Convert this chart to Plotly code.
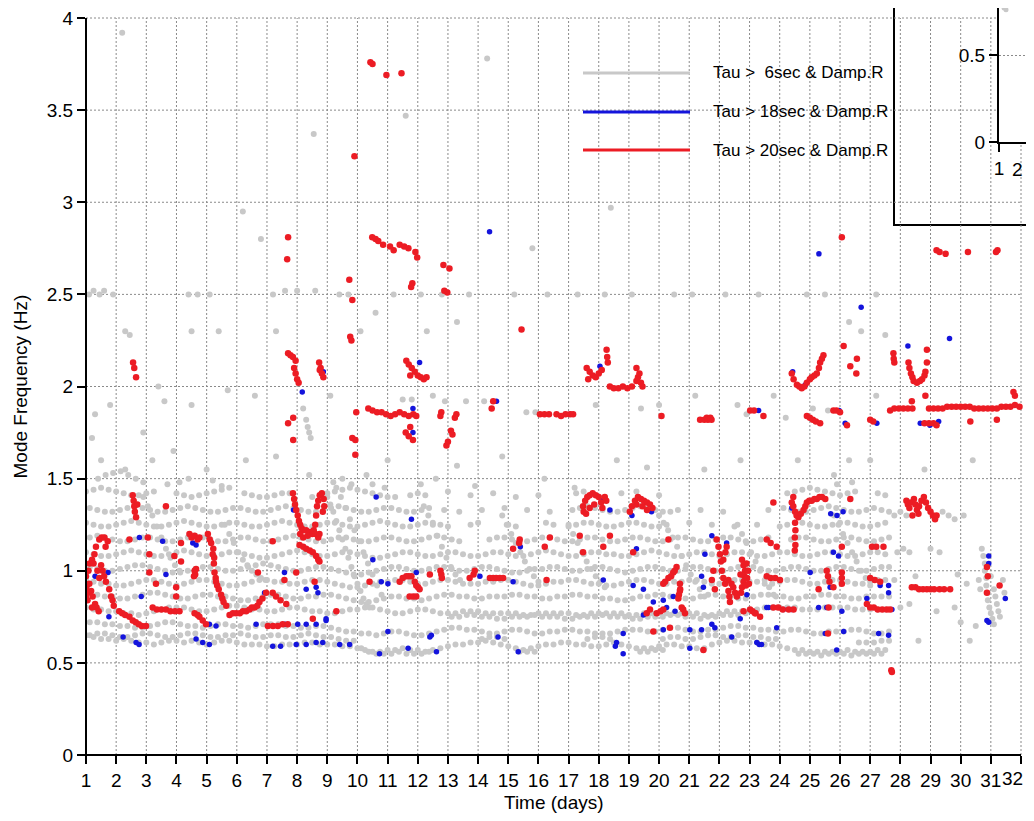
import plotly.graph_objects as go

# ---------------- sample times (days) ----------------
t_a = [1.0, 1.25, 1.5, 1.75, 2.0, 2.25, 2.5, 2.75, 3.0, 3.25, 3.5, 3.75,
       4.0, 4.25, 4.5, 4.75, 5.0, 5.25, 5.5, 5.75, 6.0, 6.25, 6.5, 6.75,
       7.0, 7.25, 7.5, 7.75, 8.0, 8.25, 8.5, 8.75, 9.0, 9.25, 9.5, 9.75,
       10.0, 10.25, 10.5, 10.75, 11.0, 11.25, 11.5, 11.75, 12.0, 12.25, 12.5, 12.75,
       13.0, 13.25, 13.5, 13.75, 14.0, 14.25, 14.5, 14.75, 15.0, 15.25, 15.5, 15.75,
       16.0, 16.25, 16.5, 16.75, 17.0, 17.25, 17.5, 17.75, 18.0, 18.25, 18.5, 18.75,
       19.0, 19.25, 19.5, 19.75, 20.0, 20.25, 20.5, 20.75, 21.0, 21.25, 21.5, 21.75,
       22.0, 22.25, 22.5, 22.75, 23.0, 23.25, 23.5, 23.75, 24.0, 24.25, 24.5, 24.75,
       25.0, 25.25, 25.5, 25.75, 26.0, 26.25, 26.5, 26.75, 27.0, 27.25, 27.5]
t_b = [1.125, 1.375, 1.625, 1.875, 2.125, 2.375, 2.625, 2.875, 3.125, 3.375, 3.625, 3.875,
       4.125, 4.375, 4.625, 4.875, 5.125, 5.375, 5.625, 5.875, 6.125, 6.375, 6.625, 6.875,
       7.125, 7.375, 7.625, 7.875, 8.125, 8.375, 8.625, 8.875, 9.125, 9.375, 9.625, 9.875,
       10.125, 10.375, 10.625, 10.875, 11.125, 11.375, 11.625, 11.875, 12.125, 12.375, 12.625, 12.875,
       13.125, 13.375, 13.625, 13.875, 14.125, 14.375, 14.625, 14.875, 15.125, 15.375, 15.625, 15.875,
       16.125, 16.375, 16.625, 16.875, 17.125, 17.375, 17.625, 17.875, 18.125, 18.375, 18.625, 18.875,
       19.125, 19.375, 19.625, 19.875, 20.125, 20.375, 20.625, 20.875, 21.125, 21.375, 21.625, 21.875,
       22.125, 22.375, 22.625, 22.875, 23.125, 23.375, 23.625, 23.875, 24.125, 24.375, 24.625, 24.875,
       25.125, 25.375, 25.625, 25.875, 26.125, 26.375, 26.625, 26.875, 27.125, 27.375, 27.625]

N = None
# ---------------- gray mode tracks (Hz), Tau > 6 s ----------------
gray_t1 = [.65,.64,.63,.63, .62,.63,.62,.61, .61,.60,.61,.62, .62,.61,.62,.61, .60,.61,.62,.62,
           .61,.60,.60,.60, .59,.59,.60,.60, .60,.61,.61,.60, .60,.60,.59,.59, .58,.57,.56,.56,
           .57,.57,.58,.57, .57,.56,.57,.58, .59,.60,.60,.61, .61,.62,.61,.60, .59,.58,.57,.58,
           .59,.60,.60,.61, .61,.60,.60,.59, .59,.60,.61,.60, .59,.58,.58,.58, .59,.60,.60,.59,
           .59,.58,.58,.60, .61,.62,.62,.61, .61,.61,.60,.60, .59,.58,.57,.57, .56,.56,.56,.56,
           .56,.57,.56,.56, .56,.57,.57]
gray_t2 = [.72,.72,.71,.71, .70,.70,.69,.69, .70,.71,.72,.72, .71,.70,.70,.69, .70,.71,.71,.70,
           .70,.69,.70,.71, .71,.71,.70,.70, .69,.69,.70,.70, .69,.68,.67,.67, .66,.66,.65,.66,
           .67,.67,.66,.65, .65,.66,.67,.68, .69,.69,.68,.68, .67,.66,.66,.67, .68,.68,.67,.66,
           .66,.67,.67,.68, .68,.67,.67,.66, .66,.66,.67,.68, .68,.68,.67,.67, .68,.69,.69,.68,
           .67,.67,.68,.68, .69,.70,.70,.69, .69,.68,.68,.67, .67,.68,.68,.67, .66,.66,.67,.67,
           .67,.68,.68,.67, .66,.66,.67]
gray_t3 = [.80,.79,.79,.78, .78,.77,.77,.76, .77,.78,.79,.80, .80,.80,.79,.78, .78,.79,.80,.81,
           .81,.80,.79,.79, .78,.78,.79,.80, .80,.79,.78,.78, .77,.77,.78,.79, .79,.80,.80,.79,
           .78,.77,.77,.78, .79,.79,.78,.77, .77,.77,.78,.78, .78,.77,.77,.77, .77,.77,.76,.76,
           .77,.77,.77,.77, .77,.76,.76,.77, .77,.77,.77,.77, .76,.76,.77,.77, .77,.77,.77,.77,
           .77,.77,.76,.76, .77,.78,.78,.78, .79,.79,.80,.80, .80,.80,.80,.79, .79,.79,.80,.80,
           .80,.80,.79,.79, .79,.79,.79]
gray_t4 = [.88,.87,.86,.86, .85,.85,.86,.87, .88,.88,.87,.86, .85,.85,.86,.87, .87,.86,.86,.85,
           .84,.84,.85,.86, .87,.87,.86,.85, .85,.86,.86,.87, .87,.86,.85,.84, .83,.83,.84,.85,
           .86,.86,.85,.85, .84,.85,.86,.87, .87,.86,.86,.85, .85,.86,.86,.86, .87,.87,.86,.86,
           .85,.85,.86,.86, .87,.87,.86,.86, .85,.85,.84,.84, .85,.86,.86,.87, .87,.86,.86,.85,
           .85,.86,.87,.87, .86,.86,.85,.85, .86,.87,.87,.86, .86,.85,.85,.86, .86,.87,.87,.86,
           .86,.85,.85,.86, .86,.86,.86]
gray_t5 = [.95,.94,.93,.93, .92,.92,.93,.94, .95,.95,.94,.93, .92,.93,.94,.95, .95,.94,.93,.92,
           .92,.93,.94,.95, .95,.94,.94,.93, .93,.94,.95,.95, .94,.93,.92,.91, .91,.92,.93,.94,
           .94,.95,.95,.94, .93,.93,.94,.95, .95,.94,.93,.93, .93,.94,.94,.95, .95,.94,.93,.92,
           .92,.93,.94,.94, .95,.95,.94,.93, .93,.92,.92,.93, .94,.95,.95,.94, .93,.93,.94,.94,
           .95,.95,.94,.93, .93,.94,.95,.95, .94,.94,.93,.93, .94,.95,.95,.94, .93,.93,.94,.95,
           .95,.94,.93,.93, .94,.95,.95]
gray_t6 = [1.02,1.01,1.00,1.00, 1.01,1.02,1.03,1.03, 1.02,1.01,1.00,.99, .99,1.00,1.01,1.02,
           1.02,1.01,1.00,1.00, 1.01,1.02,1.03,1.04, 1.03,1.02,1.01,1.00, 1.00,1.01,1.02,1.02,
           1.01,1.00,.99,.98, .98,.99,1.00,1.01, 1.02,1.02,1.01,1.00, 1.00,1.01,1.02,1.02,
           1.01,1.00,1.00,1.01, 1.02,1.02,1.01,1.00, .99,.99,1.00,1.01, 1.01,1.02,1.02,1.01,
           1.00,1.00,1.01,1.02, 1.02,1.01,1.00,.99, 1.00,1.01,1.02,1.02, 1.01,1.00,1.00,1.01,
           1.02,1.02,1.01,1.00, 1.00,1.01,1.02,1.03, 1.02,1.01,1.00,1.00, 1.01,1.02,1.02,1.01,
           1.00,1.00,1.01,1.02, 1.02,1.01,1.00,1.00, 1.01,1.02,1.02]
gray_t7 = [1.10,1.09,1.08,1.08, 1.09,1.10,1.11,1.10, 1.09,1.08,1.08,1.09, 1.10,1.11,1.10,1.09,
           1.08,1.08,1.09,1.10, 1.10,1.09,1.08,1.07, 1.07,1.08,1.09,1.10, 1.11,1.10,1.09,1.08,
           1.08,1.09,1.10,1.10, 1.09,1.08,1.07,1.07, 1.08,1.09,1.10,1.10, 1.09,1.08,1.08,1.09,
           1.10,1.10,1.09,1.08, 1.08,1.09,1.10,1.10, 1.09,1.08,1.08,1.09, 1.10,1.11,1.10,1.09,
           1.08,1.08,1.09,1.10, 1.10,1.09,1.09,1.08, 1.08,1.09,1.10,1.11, 1.10,1.09,1.08,1.08,
           1.09,1.10,1.10,1.09, 1.08,1.09,1.10,1.10, 1.09,1.08,1.08,1.09, 1.10,1.10,1.09,1.08,
           1.08,1.09,1.10,1.10, 1.09,1.08,1.08,1.09, 1.10,1.10,1.09]
gray_t8 = [1.18,1.19,1.18,1.17, 1.16,1.16,1.17,1.18, 1.18,1.17,1.16,1.16, 1.17,1.18,1.19,1.18,
           1.17,1.16,1.16,1.17, 1.18,1.18,1.17,1.16, 1.16,1.17,1.18,1.19, 1.18,1.17,1.16,1.16,
           1.17,1.18,1.18,1.17, 1.16,1.16,1.17,1.18, 1.18,1.17,1.16,1.16, 1.17,1.18,1.19,1.18,
           1.17,1.16,N,N, N,1.17,1.18,1.18, 1.17,1.16,1.16,1.17, 1.18,1.18,1.17,1.16,
           1.16,1.17,1.18,1.18, 1.17,1.16,1.16,1.17, 1.18,1.18,1.17,1.16, 1.16,1.17,1.18,1.18,
           1.17,1.16,1.16,1.17, 1.18,1.18,1.17,1.16, 1.16,1.17,1.18,N, N,1.17,1.18,1.18,
           1.17,1.16,1.16,1.17, 1.18,1.18,1.17,1.16, 1.16,1.17,1.18]
gray_t9 = [1.26,1.25,1.24,1.24, 1.25,1.26,1.27,1.26, 1.25,1.24,1.24,1.25, 1.26,1.27,1.26,1.25,
           1.24,1.24,1.25,1.26, 1.26,1.25,1.24,1.24, 1.25,1.26,1.27,1.26, 1.25,1.24,1.24,1.25,
           1.26,1.26,1.25,1.24, 1.24,1.25,1.26,1.27, 1.26,1.25,1.24,1.24, 1.25,1.26,1.26,1.25,
           1.24,N,N,1.25, 1.26,N,N,N, 1.25,1.24,N,N, N,1.26,1.25,N,
           1.24,1.25,1.26,1.26, 1.25,1.24,1.24,1.25, 1.26,1.26,1.25,1.24, 1.24,1.25,N,N,
           1.26,N,N,1.25, N,N,1.24,N, N,1.25,N,N, 1.24,1.25,1.26,1.26,
           1.25,1.24,1.24,1.25, 1.26,1.26,1.25,1.24, 1.24,1.25,1.26]
gray_t10 = [1.34,1.33,1.32,1.32, 1.33,1.34,1.35,1.34, 1.33,1.32,1.32,1.33, 1.34,1.35,1.34,1.33,
            1.32,1.32,1.33,1.34, 1.34,1.33,1.32,1.32, 1.33,1.34,1.35,1.34, 1.33,1.32,1.32,1.33,
            1.34,1.35,1.34,1.33, 1.32,1.32,1.33,1.34, 1.34,1.33,1.32,1.32, 1.33,1.34,N,1.33,
            N,1.32,N,N, 1.33,N,N,1.34, N,N,1.33,N, N,1.32,N,N,
            1.33,1.34,1.35,1.34, 1.33,1.32,1.32,1.33, 1.34,1.35,1.34,1.33, 1.32,1.32,1.33,N,
            N,1.33,N,N, 1.32,N,N,N, N,N,1.33,N, 1.34,1.33,1.32,1.32,
            1.33,1.34,1.35,1.34, 1.33,1.32,1.32,1.33, 1.34,1.33,1.32]
gray_t11 = [1.43,1.44,1.45,1.44, 1.43,1.42,1.41,1.41, 1.42,1.43,N,N, 1.42,1.41,1.40,1.41,
            1.42,1.43,1.44,1.45, N,1.42,1.41,1.40, 1.40,1.41,1.42,1.42, N,N,1.40,1.41,
            1.42,1.43,1.44,1.45, 1.44,1.43,1.42,1.41, 1.40,1.40,N,1.41, 1.42,1.41,N,N,
            1.43,N,N,1.41, N,N,1.42,N, N,1.40,N,N, 1.41,N,N,N,
            N,1.42,1.43,N, N,N,N,1.42, N,1.43,N,N, 1.41,N,N,N,
            N,N,N,N, N,N,N,N, N,N,N,N, N,1.42,1.43,1.44,
            1.45,1.44,1.43,1.42, 1.41,1.42,1.43,N, N,1.42,1.41]
gray_t12 = [.65,.66,.66,.65, .64,.64,.65,.66, .66,.65,.64,.64, .65,.66,.66,.65, .64,.64,.65,.65,
            .66,.65,.64,.64, .65,.65,.64,.64, .65,.66,.65,.64, .64,.63,.62,.62, N,N,N,N,
            N,N,N,N, N,N,N,N, N,N,N,N, .63,.64,.64,.63, N,N,N,N,
            N,N,N,N, N,N,.63,.64, .64,.63,N,N, N,N,N,N, .63,.64,.64,.63,
            .63,.64,.65,.65, .64,.64,.65,.65, .64,.64,.63,.63, N,N,N,N, N,N,N,N,
            N,N,.61,.61, .61,.62,.62]

# gray arcs and isolated gray modes: (day, Hz)
gray_arcs = [
    (9.0,1.4),(9.1,1.36),(9.2,1.32),(9.3,1.27),(9.4,1.22),(9.5,1.17),(9.6,1.12),(9.7,1.07),(9.8,1.02),
    (9.9,0.97),(10.0,0.93),(10.1,0.89),(10.2,0.85),(10.3,0.82),(10.4,0.8),
    (9.3,1.45),(9.45,1.4),(9.6,1.34),(9.75,1.28),(9.9,1.22),(10.05,1.16),(10.2,1.1),(10.35,1.04),
    (10.5,0.98),(10.65,0.92),(10.8,0.87),
    (5.6,1.25),(5.75,1.2),(5.9,1.15),(6.05,1.1),(6.2,1.06),(6.35,1.03),(6.5,1.0),(6.65,0.98),(6.8,0.96),(6.95,0.95),
    (20.0,1.3),(20.15,1.26),(20.3,1.22),(20.45,1.18),(20.6,1.13),(20.75,1.08),(20.9,1.03),(21.05,0.98),
    (21.2,0.94),(21.35,0.9),(21.5,0.86),
    (22.6,1.25),(22.75,1.2),(22.9,1.15),(23.05,1.1),(23.2,1.05),(23.35,1.0),(23.5,0.95),(23.65,0.91),(23.8,0.87),
    (12.2,1.35),(12.35,1.3),(12.5,1.25),(12.65,1.19),(12.8,1.13),(12.95,1.07),(13.1,1.02),(13.25,0.98),(13.4,0.95),
    (2.9,1.4),(3.05,1.35),(3.2,1.3),(3.35,1.24),(3.5,1.18),(3.65,1.12),(3.8,1.07),(3.95,1.03),(4.1,1.0),
    (25.8,1.3),(25.95,1.25),(26.1,1.2),(26.25,1.15),(26.4,1.1),(26.55,1.05),(26.7,1.0),(26.85,0.96),(27.0,0.92),
    (17.0,1.25),(17.15,1.2),(17.3,1.15),(17.45,1.1),(17.6,1.05),(17.75,1.01),(17.9,0.97),(18.05,0.94),(18.2,0.91),
    (14.8,1.3),(14.95,1.25),(15.1,1.2),(15.25,1.15),(15.4,1.1),(15.55,1.05),(15.7,1.01),(15.85,0.97),(16.0,0.94),
]

gray_extra = [
    (13.125,.75),(13.375,.75),(13.625,.76),(13.875,.76),(14.125,.75),(14.375,.75),(14.625,.74),(14.875,.74),
    (15.125,.75),(15.375,.75),(15.625,.75),(15.875,.76),(16.125,.75),(16.375,.75),(16.625,.75),(16.875,.74),
    (17.125,.74),(17.375,.75),(17.625,.75),(17.875,.75),(18.125,.76),(18.375,.75),(18.625,.75),(18.875,.75),
    (19.125,.74),(19.375,.74),(19.625,.75),(19.875,.75),(20.125,.75),(20.375,.76),(20.625,.76),(20.875,.75),
    (21.125,.75),(21.375,.74),(21.625,.75),(21.875,.75),(22.125,.76),(22.375,.76),(22.625,.76),(22.875,.77),
    (10.125,.58),(10.375,.56),(10.625,.55),(10.875,.55),(11.125,.55),(11.375,.56),(11.625,.55),(11.875,.55),
    (12.125,.55),(12.375,.56),(15.375,.56),(15.625,.56),(15.875,.56),(19.375,.56),(19.625,.56),(19.875,.57),
    (20.125,.57),(24.625,.55),(24.875,.55),(25.125,.55),(25.375,.54),(25.625,.55),(25.875,.55),(26.125,.55),
    (26.375,.54),(26.625,.55),(26.875,.55),(27.125,.55),(27.375,.55),
    (1.4,1.5),(1.65,1.52),(1.9,1.53),(2.15,1.54),(2.4,1.52),(2.65,1.5),(2.9,1.48),(3.7,1.47),(4.1,1.48),
    (4.4,1.5),(5.2,1.49),(5.5,1.46),(9.2,1.48),(9.5,1.5),(9.8,1.47),(10.5,1.47),(10.9,1.45),(12.1,1.47),
    (13.9,1.46),(17.2,1.45),(25.9,1.47),(26.4,1.48),
    (2.2,3.92),(1.1,2.5),(1.25,2.52),(1.45,2.5),(1.6,2.52),(1.9,2.5),(2.3,2.3),(2.45,2.28),(3.4,2.0),
    (3.6,1.92),(4.4,2.5),(4.7,2.5),(4.5,2.3),(5.1,2.5),(5.4,2.3),(6.2,2.95),(6.8,2.8),(7.2,2.5),(7.3,2.3),
    (7.6,2.52),(8.0,2.52),(8.55,3.37),(8.6,2.52),(9.4,2.5),(9.7,2.5),(10.1,2.3),(10.6,2.4),(11.2,2.5),
    (11.6,3.47),(12.1,2.5),(12.3,2.3),(12.8,2.5),(13.3,2.35),(13.7,2.5),(14.3,3.78),(15.2,2.5),(15.8,2.75),
    (16.3,2.5),(17.3,2.5),(18.2,2.5),(18.4,2.97),(19.1,2.5),(20.5,2.5),(21.1,2.5),(22.2,2.5),(23.3,2.5),
    (24.9,2.5),(25.5,2.5),(26.3,2.35),(26.7,2.3),(27.5,2.28),(27.2,2.5),
    (1.3,1.85),(1.8,1.9),(2.9,1.75),(4.5,1.9),(5.7,1.98),(6.6,1.95),(8.2,1.88),(8.3,1.82),(8.35,1.78),
    (8.4,1.75),(8.45,1.72),(9.1,1.95),(12.5,1.95),(14.2,1.92),(15.9,1.86),(17.9,1.9),(19.4,1.88),
    (21.2,1.95),(22.6,1.9),(23.8,1.95),(24.2,1.83),(27.2,1.95),(11.5,1.93),(11.8,1.93),(12.9,1.92),
    (13.6,1.92),(15.6,1.86),(16.9,1.85),(20.0,1.9),(22.9,1.85),(25.1,1.88),(25.6,1.87),
    (1.5,1.6),(2.3,1.55),(3.2,1.6),(5.0,1.55),(6.3,1.6),(8.4,1.52),(10.3,1.52),(12.6,1.5),(13.3,1.57),
    (16.2,1.5),(19.6,1.56),(22.7,1.6),(25.8,1.52),(27.0,1.6),(28.8,1.55),(30.4,1.6),(1.2,1.72),(3.9,1.65),
    (7.3,1.62),(11.0,1.6),(14.8,1.62),(18.6,1.6),(21.5,1.55),(24.6,1.6),(26.3,1.6),
    (27.8,1.3),(28.0,1.32),(28.2,1.3),(29.4,1.32),(29.6,1.3),(29.8,1.28),(30.1,1.3),(27.9,1.1),(28.1,1.12),
    (28.3,1.1),(29.0,1.12),(29.3,1.1),(27.8,0.95),(28.5,0.97),(29.9,0.98),(30.2,0.93),(28.0,0.8),(28.3,0.82),
    (29.2,0.78),(29.8,0.8),(30.0,0.72),(30.5,0.7),(30.3,0.62),(28.6,0.62),
    (30.7,1.12),(30.75,1.08),(30.8,1.04),(30.8,1.0),(30.85,0.96),(30.85,0.92),(30.9,0.88),(30.9,0.84),
    (30.95,0.8),(31.0,0.77),(31.05,0.74),(31.1,0.71),(31.0,0.97),(31.1,0.9),(31.15,0.86),(31.2,0.82),
    (31.25,0.78),(31.3,0.75),(30.6,0.95),(30.65,0.9),(31.4,0.95),(31.45,0.88),
]

# ---------------- blue modes, Tau > 18 s ----------------
blue_pts = [
    (1.73,0.99),(1.76,0.75),(2.23,0.64),(2.66,0.61),(2.76,0.6),(2.77,1.18),(3.54,1.16),(3.65,0.98),(2.83,0.86),
    (1.3,0.97),(4.54,1.15),(4.65,1.14),(5.09,0.71),(5.31,0.7),(4.65,0.63),(4.87,0.61),(5.09,0.6),
    (6.92,0.88),(6.64,0.71),(7.58,0.99),(7.6,0.71),(8.02,0.71),(8.3,0.71),(8.63,0.71),(8.96,0.73),
    (7.19,0.59),(7.45,0.59),(7.97,0.6),(8.3,0.6),(8.63,0.61),(8.85,0.61),(9.41,0.6),(9.74,0.6),(10.73,0.55),
    (11.01,0.67),(8.96,0.74),(8.3,0.9),(8.63,0.91),(8.69,0.88),(10.51,1.06),(10.79,0.94),(11.01,0.93),
    (7.88,1.33),(10.62,1.40),(8.17,1.97),(8.87,2.08),
    (11.95,0.99),(14.06,0.97),(15.16,0.94),(15.4,1.13),(18.15,0.95),(19.25,1.12),(19.14,0.92),(19.48,0.9),
    (19.81,0.83),(20.14,0.84),(20.47,0.86),(20.25,0.8),(20.53,0.78),(19.48,0.76),(20.14,0.68),(21.02,0.68),
    (21.41,0.68),(21.47,0.57),(21.02,0.58),(12.4,0.64),(12.45,0.65),(11.68,0.58),(12.62,0.56),(14.66,0.64),
    (15.33,0.56),(18.59,0.61),(18.55,0.59),(18.81,0.66),(18.81,0.55),(21.41,0.97),(21.47,0.91),(21.52,1.09),
    (21.75,1.19),(22.24,1.15),(21.75,0.71),(21.85,0.69),(22.41,0.64),(22.69,0.74),(23.24,0.61),(23.32,0.6),
    (23.4,0.6),(22.91,0.87),(22.58,0.86),(23.63,0.8),(23.9,0.69),(23.57,0.8),(24.12,0.79),(24.4,0.79),
    (25.29,0.8),(25.01,0.99),(25.78,1.1),(25.95,1.08),(25.67,0.91),(25.56,0.8),(26.06,0.78),(25.51,0.66),
    (26.12,0.67),(25.89,0.57),(27.33,0.92),(27.61,0.92),(27.61,0.88),(26.89,0.85),(27.72,0.79),(27.28,0.66),
    (27.61,0.65),(30.93,1.08),(30.93,1.04),(30.87,0.73),(30.93,0.72),(31.48,0.85),
    (14.61,1.92),(17.05,1.85),(18.04,2.11),(23.3,1.87),(24.43,2.08),(24.85,2.01),(25.97,1.87),(26.17,1.8),
    (27.22,1.8),(28.25,2.22),(29.63,2.26),(28.66,1.80),(28.98,1.79),(29.27,1.81),(11.84,1.88),(11.84,1.75),
    (12.06,2.13),(18.09,1.38),(18.37,1.33),(19.1,1.3),(19.75,1.32),(11.79,1.28),(24.4,1.34),(25.69,1.31),
    (25.9,1.3),(26.1,1.32),(14.38,2.84),(25.3,2.72),(26.7,2.43),
]

# ---------------- red modes, Tau > 20 s ----------------
red_pts = [
    (10.43,3.76),(10.5,3.75),(10.96,3.69),(11.46,3.70),(9.9,3.25),
    (10.49,2.81),(10.6,2.8),(10.69,2.79),(10.85,2.77),(11.08,2.76),(11.2,2.74),(11.4,2.77),(11.55,2.76),
    (11.69,2.75),(11.92,2.73),(11.98,2.7),(11.82,2.56),(11.78,2.54),(12.85,2.66),(13.05,2.64),(12.88,2.52),
    (12.98,2.51),(9.73,2.58),(9.83,2.47),(9.76,2.27),(9.8,2.25),(9.83,1.72),(9.93,1.71),(9.93,1.63),
    (7.7,2.81),(7.67,2.69),(7.7,2.18),(7.78,2.17),(7.86,2.16),(7.95,2.14),(7.9,2.1),(7.95,2.07),(8.0,2.04),
    (8.05,2.02),(8.73,2.13),(8.78,2.1),(8.82,2.07),(8.87,2.05),(8.75,2.09),(7.87,1.83),(7.7,1.8),(7.87,1.71),
    (9.96,1.86),(10.36,1.88),(10.5,1.87),(10.65,1.86),(10.8,1.86),(10.95,1.85),(11.1,1.84),(11.25,1.85),
    (11.4,1.86),(11.55,1.85),(11.7,1.84),(11.85,1.85),(11.95,1.84),
    (11.62,2.14),(11.7,2.12),(11.8,2.1),(11.9,2.08),(12.0,2.06),(12.1,2.05),(12.2,2.04),(12.29,2.05),(11.75,2.06),
    (12.78,1.86),(12.75,1.84),(13.23,1.83),(13.28,1.85),(13.1,1.76),(13.15,1.74),(12.95,1.68),(13.0,1.7),
    (11.6,1.75),(11.7,1.73),(11.84,1.71),(11.75,1.78),(14.5,1.92),(14.45,1.88),(15.44,2.31),
    (16.05,1.85),(16.2,1.85),(16.35,1.85),(16.6,1.85),(16.75,1.84),(16.9,1.85),(17.05,1.85),(17.15,1.85),
    (17.6,2.1),(17.7,2.08),(17.8,2.06),(17.9,2.05),(18.0,2.07),(18.1,2.09),(17.65,2.04),(18.26,2.2),(18.28,2.16),
    (18.3,2.13),(18.37,2.0),(18.5,1.99),(18.65,1.99),(18.8,2.0),(18.95,1.99),(19.1,2.0),(19.25,2.03),(19.3,2.05),
    (19.35,2.07),(19.4,2.02),(19.45,2.0),(19.25,2.1),(20.08,1.84),
    (21.36,1.82),(21.5,1.82),(21.62,1.82),(21.74,1.82),(21.58,1.83),(21.7,1.83),(23.02,1.87),(23.15,1.87),(23.46,1.84),
    (24.4,2.07),(24.46,2.04),(24.57,2.01),(24.65,2.0),(24.73,1.99),(24.82,2.0),(24.9,2.02),(25.0,2.04),(25.06,2.05),
    (25.15,2.06),(25.23,2.07),(25.3,2.1),(25.34,2.13),(25.4,2.15),(25.45,2.17),
    (24.9,1.84),(25.0,1.83),(25.1,1.82),(25.2,1.81),(25.34,1.8),(25.78,1.87),(25.88,1.87),(26.0,1.86),(26.23,1.79),
    (26.12,2.22),(26.56,2.15),(26.34,2.11),(26.54,2.07),(27.0,1.82),(27.1,1.81),(27.77,2.18),(27.78,2.15),(27.8,2.13),
    (28.27,2.13),(28.35,2.07),(28.4,2.05),(28.44,2.03),(28.55,2.02),(28.65,2.03),(28.72,2.04),(28.8,2.06),(28.83,2.08),
    (28.88,2.13),(28.3,2.1),(28.88,2.2),
    (27.66,1.87),(27.8,1.88),(27.95,1.88),(28.1,1.88),(28.25,1.88),(28.4,1.88),(28.95,1.88),(29.1,1.88),(29.25,1.88),
    (29.4,1.88),(29.55,1.89),(29.7,1.89),(29.85,1.89),(30.0,1.89),(30.15,1.89),(30.3,1.89),(30.45,1.88),(30.6,1.88),
    (30.75,1.88),(30.9,1.88),(31.05,1.88),(31.2,1.88),(31.35,1.89),(31.5,1.89),(31.65,1.89),(31.8,1.9),(31.95,1.89),
    (28.38,1.92),(28.83,1.95),(31.8,1.95),(31.75,1.97),(28.8,1.8),(28.95,1.8),(29.1,1.8),(29.2,1.79),(30.32,1.81),(31.2,1.82),
    (29.2,2.74),(29.3,2.73),(29.5,2.72),(30.24,2.73),(31.17,2.73),(31.22,2.74),(26.06,2.81),
    (2.56,2.13),(2.66,2.05),(2.6,2.1),
    (1.0,0.97),(1.03,0.92),(1.06,0.88),(1.11,0.93),(1.17,0.89),(1.22,0.86),(1.08,1.0),(1.12,1.04),(1.2,1.06),(1.28,1.09),
    (1.33,1.13),(1.44,1.17),(1.52,1.18),(1.61,1.18),(1.72,1.16),(1.55,1.0),(1.5,1.03),(1.44,0.96),(1.66,0.94),(1.77,0.9),
    (1.83,0.86),(1.88,0.84),(1.92,0.81),(1.3,0.82),(1.35,0.8),(1.42,0.78),(1.2,0.8),(1.05,0.84),(1.0,0.86),(1.0,0.9),
    (1.6,0.97),(1.38,1.0),(1.25,1.04),(1.65,1.13),
    (2.1,0.78),(2.2,0.77),(2.3,0.76),(2.44,0.75),(2.55,0.73),(2.65,0.72),(2.75,0.71),(2.85,0.70),(2.99,0.70),
    (2.55,1.41),(2.58,1.38),(2.6,1.35),(2.62,1.32),(2.66,1.29),(2.7,1.36),(3.65,1.35),
    (2.44,1.17),(3.05,1.18),(3.1,1.09),(3.1,0.99),(3.32,0.93),
    (3.21,0.8),(3.35,0.79),(3.5,0.79),(3.65,0.79),(3.8,0.78),(3.95,0.78),(4.1,0.78),
    (3.93,1.08),(3.99,0.91),(3.99,0.86),(4.15,1.15),(4.15,1.05),
    (4.43,1.2),(4.5,1.18),(4.6,1.19),(4.7,1.17),(4.76,1.18),(4.6,1.0),(4.62,0.98),(4.58,0.97),(4.65,1.01),
    (5.04,1.2),(5.1,1.17),(5.15,1.15),(5.2,1.09),(5.22,1.12),(5.24,1.04),(5.25,1.07),(5.26,0.99),(5.3,0.96),
    (5.31,0.94),(5.35,0.92),(5.4,0.9),(5.48,0.87),(5.52,0.85),(5.56,0.83),(5.65,0.81),
    (4.6,0.77),(4.7,0.76),(4.76,0.75),(4.87,0.73),(4.98,0.71),
    (5.76,0.76),(5.87,0.77),(5.98,0.77),(6.1,0.77),(6.2,0.78),(6.31,0.78),(6.42,0.79),(6.5,0.8),(6.59,0.8),
    (6.68,0.81),(6.75,0.83),(6.85,0.85),(6.97,0.88),(7.19,0.88),(7.3,0.86),(7.45,0.84),(7.64,0.82),(6.7,0.99),(7.58,0.95),
    (7.03,0.70),(7.2,0.70),(7.36,0.70),(7.52,0.71),(7.69,0.71),
    (8.52,0.74),(9.3,0.78),(7.97,0.99),(8.58,0.94),(10.4,0.94),(7.19,1.16),
    (7.86,1.42),(7.9,1.39),(7.93,1.36),(7.97,1.33),(8.02,1.3),(8.06,1.27),(8.1,1.25),(8.15,1.23),(8.2,1.22),(8.3,1.22),
    (8.4,1.21),(8.5,1.2),(8.55,1.22),(8.6,1.25),(8.63,1.3),(8.66,1.35),(8.7,1.38),(8.75,1.41),(8.82,1.42),(8.88,1.39),
    (8.9,1.35),(8.85,1.32),(8.1,1.2),(8.2,1.18),(8.35,1.19),(8.6,1.2),(8.7,1.18),(8.74,1.2),
    (8.08,1.14),(8.2,1.13),(8.3,1.12),(8.42,1.11),(8.52,1.10),(8.63,1.08),(8.7,1.06),(8.74,1.05),
    (11.4,0.94),(11.5,0.96),(11.62,0.97),(11.7,0.97),(11.79,0.97),(11.9,0.94),(11.95,0.92),(12.01,0.91),(12.06,0.9),
    (11.73,0.86),(11.85,0.86),(11.95,0.86),(12.4,0.98),(12.75,1.0),(12.78,0.98),(12.8,0.96),
    (13.72,0.96),(13.89,1.0),(13.85,0.98),(14.39,0.96),(14.5,0.96),(14.6,0.96),(14.72,0.96),(14.83,0.96),
    (15.16,1.12),(15.38,1.17),(15.36,1.15),(16.27,0.95),(16.21,1.13),(16.38,1.18),(17.37,1.19),(17.48,1.1),
    (18.37,1.19),(18.15,1.13),(19.14,1.10),(20.31,1.17),
    (17.48,1.35),(17.55,1.38),(17.62,1.4),(17.7,1.41),(17.8,1.42),(17.9,1.41),(18.0,1.40),(18.08,1.37),(18.12,1.34),
    (17.5,1.32),(17.58,1.31),(17.7,1.34),(17.85,1.36),(18.2,1.4),(18.25,1.38),
    (19.03,1.32),(19.1,1.35),(19.2,1.38),(19.3,1.40),(19.4,1.39),(19.5,1.38),(19.6,1.37),(19.7,1.36),(19.78,1.34),
    (19.25,1.36),(19.45,1.35),(19.6,1.33),
    (20.58,1.02),(20.52,1.0),(20.47,0.99),(20.4,0.97),(20.31,0.96),(20.2,0.94),(20.14,0.93),(20.69,0.93),(20.7,0.9),
    (20.69,0.89),(20.66,0.87),(20.64,0.85),(19.7,0.79),(19.59,0.77),(19.92,0.77),(20.05,0.78),(20.14,0.79),(20.75,0.8),
    (20.86,0.77),(20.8,0.79),(19.81,0.67),(20.36,0.69),(21.47,0.57),
    (21.91,1.17),(21.97,1.13),(22.02,1.09),(22.05,1.05),(22.08,1.0),(22.13,0.96),(22.19,0.93),(22.3,0.89),(22.33,0.86),
    (22.35,0.83),(22.24,1.13),(22.2,1.1),(22.13,1.06),(22.3,0.95),(22.4,0.93),(22.46,0.91),(22.52,0.88),(22.58,0.86),
    (21.8,1.0),(21.75,0.95),(21.85,0.9),
    (22.75,1.06),(22.8,1.03),(22.85,1.0),(22.83,0.97),(22.8,0.94),(22.75,0.91),(22.72,0.88),(22.9,1.04),(22.95,1.0),
    (22.92,0.96),(22.7,0.98),(22.88,0.92),(22.98,0.93),
    (23.02,0.79),(23.1,0.78),(23.2,0.77),(23.35,0.75),(22.8,0.78),(23.18,0.77),
    (23.57,1.17),(23.7,1.15),(23.9,1.13),(23.57,0.97),(23.7,0.96),(23.85,0.96),(24.01,0.95),
    (24.51,1.26),(24.52,1.22),(24.5,1.18),(24.52,1.14),(24.5,1.11),
    (23.79,0.8),(23.95,0.8),(24.1,0.79),(24.3,0.79),(24.46,0.79),
    (25.29,0.9),(25.56,1.0),(25.6,0.97),(25.65,0.94),(25.78,0.91),(26.06,0.99),(26.06,0.96),(26.06,0.93),(26.06,1.13),
    (25.62,0.8),(25.6,0.66),
    (27.06,1.13),(27.2,1.13),(27.44,1.13),(27.0,0.96),(27.15,0.95),(27.33,0.94),
    (26.89,0.82),(27.0,0.8),(27.12,0.8),(27.25,0.79),(27.4,0.79),(27.55,0.79),(27.66,0.79),(27.72,0.45),(27.7,0.46),
    (24.4,1.37),(24.45,1.35),(24.51,1.32),(24.56,1.3),(24.62,1.29),(24.7,1.31),(24.79,1.33),(24.85,1.35),(24.9,1.37),
    (24.98,1.38),(25.06,1.38),(25.15,1.39),(25.23,1.39),(25.32,1.4),(25.4,1.40),(25.51,1.39),(26.34,1.39),(23.79,1.37),(24.45,1.4),
    (28.2,1.38),(28.25,1.36),(28.3,1.34),(28.35,1.37),(28.45,1.39),(28.5,1.36),(28.55,1.33),(28.62,1.35),(28.7,1.38),
    (28.78,1.4),(28.85,1.37),(28.92,1.34),(29.0,1.32),(29.08,1.3),(29.15,1.28),(29.2,1.3),(28.4,1.3),(28.6,1.31),
    (28.38,0.91),(28.5,0.91),(28.62,0.9),(28.75,0.9),(28.88,0.9),(29.0,0.9),(29.12,0.9),(29.3,0.9),(29.45,0.9),(29.65,0.9),
    (30.87,1.02),(30.87,0.88),(31.29,0.92),(30.9,0.97),
]

# inset (partially visible panel, top right)
inset_gray = [(1.18, 0.77), (1.25, 0.76)]

x_ticks = list(range(1, 33))
y_ticks = [0, 0.5, 1, 1.5, 2, 2.5, 3, 3.5, 4]
inset_x_ticks = [1, 2]
inset_y_ticks = [0, 0.5]
legend_labels = ["Tau >\u00a0 6sec & Damp.R", "Tau > 18sec & Damp.R", "Tau > 20sec & Damp.R"]

# ---------------- build ----------------
GRAY = "#c8c8c8"
BLUE = "#1414dc"
RED = "#ec1c24"
FONT = "Liberation Sans, Arial, sans-serif"

gx, gy = [], []
for tr in [gray_t1, gray_t3, gray_t5, gray_t7, gray_t9, gray_t11]:
    for t, v in zip(t_a, tr):
        if v is not None:
            gx.append(t); gy.append(v)
for tr in [gray_t2, gray_t4, gray_t6, gray_t8, gray_t10, gray_t12]:
    for t, v in zip(t_b, tr):
        if v is not None:
            gx.append(t); gy.append(v)
for t, v in gray_arcs + gray_extra:
    gx.append(t); gy.append(v)

fig = go.Figure()
fig.add_trace(go.Scatter(x=gx, y=gy, mode="markers", marker=dict(color=GRAY, size=6), hoverinfo="skip"))
fig.add_trace(go.Scatter(x=[p[0] for p in blue_pts], y=[p[1] for p in blue_pts], mode="markers",
                         marker=dict(color=BLUE, size=5.5), hoverinfo="skip"))
fig.add_trace(go.Scatter(x=[p[0] for p in red_pts], y=[p[1] for p in red_pts], mode="markers",
                         marker=dict(color=RED, size=6.5), hoverinfo="skip"))
fig.add_trace(go.Scatter(x=[p[0] for p in inset_gray], y=[p[1] for p in inset_gray], mode="markers",
                         marker=dict(color=GRAY, size=5), xaxis="x2", yaxis="y2", hoverinfo="skip"))

# the page body adds an 8px margin, so the figure is drawn smaller and shifted by 8px
OFF = 8
FIG_W, FIG_H = 1034 - OFF, 821 - 2 * OFF
PLOT_L, PLOT_B = 86, 755          # reference pixel of x=1 and y=0
PX_W = 1034 - PLOT_L              # plot area width in px
PX_H = PLOT_B - OFF               # plot area height in px
VISIBLE_R = 1025                  # right-most reference pixel that is shown
def px(xr):
    return (xr - PLOT_L) / PX_W
def py(yr):
    return (PLOT_B - yr) / PX_H

GRID = dict(color="#8a8a8a", width=1, dash="2px,2px")
shapes = []
for xv in x_ticks[1:]:
    shapes.append(dict(type="line", xref="x", yref="y", x0=xv, x1=xv, y0=0, y1=4, line=GRID, layer="below"))
for yv in y_ticks[1:]:
    shapes.append(dict(type="line", xref="x", yref="y", x0=1, x1=32, y0=yv, y1=yv, line=GRID, layer="below"))
# inset frame (covers main grid)
shapes.append(dict(type="rect", xref="paper", yref="paper", x0=px(894), x1=px(1060), y0=py(225), y1=py(-20),
                   fillcolor="white", line=dict(color="black", width=2), layer="below"))
# main axis lines
shapes.append(dict(type="line", xref="paper", yref="paper", x0=0, x1=0, y0=0, y1=py(18),
                   line=dict(color="black", width=2)))
shapes.append(dict(type="line", xref="paper", yref="paper", x0=px(82), x1=px(1021), y0=0, y1=0,
                   line=dict(color="black", width=2)))
# legend samples
leg_cols = [GRAY, BLUE, RED]
leg_y = [73, 112, 150]
annotations = []
for c, yy, lab in zip(leg_cols, leg_y, legend_labels):
    shapes.append(dict(type="line", xref="paper", yref="paper", x0=px(583), x1=px(690), y0=py(yy), y1=py(yy),
                       line=dict(color=c, width=3)))
    annotations.append(dict(xref="paper", yref="paper", x=px(711), y=py(yy), text=lab, showarrow=False,
                            xanchor="left", yanchor="middle", font=dict(size=17, color="black", family=FONT)))

annotations.append(dict(xref="paper", yref="y", x=px(20), y=2, text="Mode Frequency (Hz)", textangle=-90,
                        showarrow=False, xanchor="center", yanchor="middle", font=dict(size=19, color="black", family=FONT)))
annotations.append(dict(xref="x", yref="paper", x=16.5, y=py(803), text="Time (days)", showarrow=False,
                        xanchor="center", yanchor="middle", font=dict(size=19, color="black", family=FONT)))
# last tick labels of both x axes sit at the right edge; keep them fully inside the visible page
annotations.append(dict(xref="paper", yref="paper", x=px(VISIBLE_R), y=py(778), text=str(x_ticks[-1]),
                        showarrow=False, xanchor="right", yanchor="middle", xshift=0,
                        font=dict(size=19, color="black", family=FONT)))
annotations.append(dict(xref="paper", yref="paper", x=px(VISIBLE_R), y=py(169), text=str(inset_x_ticks[-1]),
                        showarrow=False, xanchor="right", yanchor="middle",
                        font=dict(size=19, color="black", family=FONT)))

AX = dict(ticks="outside", ticklen=8, tickwidth=2, tickcolor="black", zeroline=False,
          tickfont=dict(size=19), ticklabeloverflow="allow")
INSET_AX = dict(AX, showline=True, linecolor="black", linewidth=2, showgrid=True,
                gridcolor="#8a8a8a", griddash="2px,2px", gridwidth=1)

fig.update_layout(
    width=FIG_W, height=FIG_H,
    margin=dict(l=PLOT_L - OFF, r=0, t=0, b=FIG_H - (PLOT_B - OFF)),
    paper_bgcolor="white", plot_bgcolor="white",
    showlegend=False,
    font=dict(family=FONT, size=19, color="black"),
    shapes=shapes, annotations=annotations,
    xaxis=dict(AX, range=[1, 1 + PX_W / (935 / 31)], tickvals=x_ticks,
               ticktext=[str(v) for v in x_ticks[:-1]] + [""], showgrid=False, showline=False),
    yaxis=dict(AX, range=[0, PX_H / (737 / 4)], tickvals=y_ticks, showgrid=False, showline=False),
    xaxis2=dict(INSET_AX, domain=[px(999), 1], range=[1, 1 + (1034 - 999) / 28], anchor="y2",
                tickvals=inset_x_ticks, ticktext=[str(inset_x_ticks[0]), ""]),
    yaxis2=dict(INSET_AX, domain=[py(142), 1], range=[0, (142 - OFF) / 174], anchor="x2", tickvals=inset_y_ticks),
)

fig.write_html("out.html")
